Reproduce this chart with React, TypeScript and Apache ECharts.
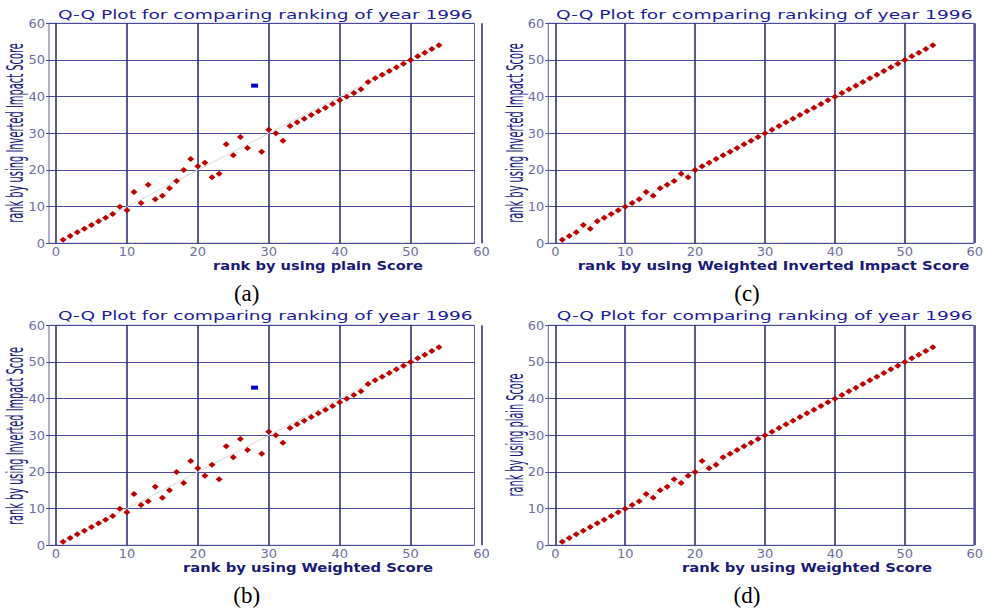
import React, { useEffect, useRef } from "react";
import * as echarts from "echarts";

// ---- data ----
const ranks = [
  1, 2, 3, 4, 5, 6, 7, 8, 9, 10, 11, 12, 13, 14, 15, 16, 17, 18, 19, 20, 21, 22, 23, 24, 25, 26, 27,
  28, 29, 30, 31, 32, 33, 34, 35, 36, 37, 38, 39, 40, 41, 42, 43, 44, 45, 46, 47, 48, 49, 50, 51, 52,
  53, 54,
];
// (a) plain Score (x) vs Inverted Impact Score (y)
const rankInvVsPlain = [
  1, 2, 3, 4, 5, 6, 7, 8, 10, 9, 14, 11, 16, 12, 13, 15, 17, 20, 23, 21, 22, 18, 19, 27, 24, 29, 26,
  43, 25, 31, 30, 28, 32, 33, 34, 35, 36, 37, 38, 39, 40, 41, 42, 44, 45, 46, 47, 48, 49, 50, 51, 52,
  53, 54,
];
// (b) Weighted Score (x) vs Inverted Impact Score (y)
const rankInvVsWeighted = [
  1, 2, 3, 4, 5, 6, 7, 8, 10, 9, 14, 11, 12, 16, 13, 15, 20, 17, 23, 21, 19, 22, 18, 27, 24, 29, 26,
  43, 25, 31, 30, 28, 32, 33, 34, 35, 36, 37, 38, 39, 40, 41, 42, 44, 45, 46, 47, 48, 49, 50, 51, 52,
  53, 54,
];
// (c) Weighted Inverted Impact Score (x) vs Inverted Impact Score (y)
const rankInvVsWeightedInv = [
  1, 2, 3, 5, 4, 6, 7, 8, 9, 10, 11, 12, 14, 13, 15, 16, 17, 19, 18, 20, 21, 22, 23, 24, 25, 26, 27,
  28, 29, 30, 31, 32, 33, 34, 35, 36, 37, 38, 39, 40, 41, 42, 43, 44, 45, 46, 47, 48, 49, 50, 51, 52,
  53, 54,
];
// (d) Weighted Score (x) vs plain Score (y)
const rankPlainVsWeighted = [
  1, 2, 3, 4, 5, 6, 7, 8, 9, 10, 11, 12, 14, 13, 15, 16, 18, 17, 19, 20, 23, 21, 22, 24, 25, 26, 27,
  28, 29, 30, 31, 32, 33, 34, 35, 36, 37, 38, 39, 40, 41, 42, 43, 44, 45, 46, 47, 48, 49, 50, 51, 52,
  53, 54,
];
// highlighted (outlier) rank per panel, null if none
const highlighted = [28, 28, null, null];
// reference diagonal y = x
const refLine = [
  [1, 1],
  [54, 54],
];

const AXIS_MIN = 0;
const AXIS_MAX = 60;
const AXIS_STEP = 10;

const TITLE = "Q-Q Plot for comparing ranking of year 1996";
const xNames = [
  "rank by using plain Score",
  "rank by using Weighted Score",
  "rank by using Weighted Inverted Impact Score",
  "rank by using Weighted Score",
];
const yNames = [
  "rank by using Inverted Impact Score",
  "rank by using Inverted Impact Score",
  "rank by using Inverted Impact Score",
  "rank by using plain Score",
];
const captions = ["(a)", "(b)", "(c)", "(d)"];
const panelValues = [rankInvVsPlain, rankInvVsWeighted, rankInvVsWeightedInv, rankPlainVsWeighted];

// ---- layout (a, b, c, d) ----
const layout = [
  { fx: 49, dx: 56, top: 23.3, tX: 265.3, tY: 14.3, tW: 415, xlX: 318, xlY: 266, xlW: 210, ylX: 15.5, ylY: 133, ylW: 180, cX: 246.7, cY: 293 },
  { fx: 49, dx: 56, top: 325.3, tX: 265.3, tY: 316, tW: 415, xlX: 308, xlY: 568, xlW: 250, ylX: 15.5, ylY: 436, ylW: 178, cX: 246.7, cY: 595 },
  { fx: 548.3, dx: 555.3, top: 23.3, tX: 764.3, tY: 14.3, tW: 417, xlX: 773.5, xlY: 266, xlW: 392, ylX: 515.5, ylY: 133, ylW: 180, cX: 747, cY: 293 },
  { fx: 548.3, dx: 555.3, top: 325.3, tX: 764.7, tY: 316, tW: 416, xlX: 807, xlY: 568, xlW: 250, ylX: 515.5, ylY: 435, ylW: 123, cX: 747, cY: 595 },
];
const PLOT_W = 425.5;
const PLOT_H = 220;

function measure(text: string, font: string): number {
  const ctx = document.createElement("canvas").getContext("2d");
  if (!ctx) return text.length * 7;
  ctx.font = font;
  return ctx.measureText(text).width;
}

function stretchedText(
  text: string,
  x: number,
  y: number,
  size: number,
  weight: string,
  family: string,
  color: string,
  targetW: number,
  vertical: boolean,
  scaleH: number
) {
  const w = measure(text, `${weight} ${size}px ${family}`);
  return {
    type: "text",
    x,
    y,
    rotation: vertical ? Math.PI / 2 : 0,
    scaleX: targetW / w,
    scaleY: scaleH,
    silent: true,
    style: {
      text,
      fill: color,
      fontSize: size,
      fontWeight: weight,
      fontFamily: family,
      align: "center",
      verticalAlign: "middle",
    },
  };
}

export default function App() {
  const ref = useRef<HTMLDivElement>(null);

  useEffect(() => {
    if (!ref.current) return;
    const chart = echarts.init(ref.current, null, { renderer: "svg" });

    const grids: any[] = [];
    const xAxes: any[] = [];
    const yAxes: any[] = [];
    const series: any[] = [];
    const graphics: any[] = [];

    const tickLabel = { color: "#6e6ea4", fontSize: 13, fontFamily: "DejaVu Sans" };

    layout.forEach((L, p) => {
      const fi = 2 * p;
      const di = 2 * p + 1;
      // frame grid (horizontal grid lines, y labels)
      grids.push({
        left: L.fx,
        top: L.top,
        width: PLOT_W,
        height: PLOT_H,
        show: true,
        borderColor: "#5c5ca2",
        borderWidth: 1,
        backgroundColor: "transparent",
      });
      // data grid (vertical grid lines, x labels)
      grids.push({ left: L.dx, top: L.top, width: PLOT_W, height: PLOT_H });

      xAxes.push({
        gridIndex: fi,
        type: "value",
        min: AXIS_MIN,
        max: AXIS_MAX,
        interval: AXIS_STEP,
        axisLine: { show: false },
        axisTick: { show: false },
        axisLabel: { show: false },
        splitLine: { show: false },
      });
      yAxes.push({
        gridIndex: fi,
        type: "value",
        min: AXIS_MIN,
        max: AXIS_MAX,
        interval: AXIS_STEP,
        axisLine: { show: false },
        axisTick: { show: true, length: 3, lineStyle: { color: "#4a4a9c", width: 1 } },
        axisLabel: { ...tickLabel, margin: 4 },
        splitLine: { show: true, lineStyle: { color: "#4a4a9c", width: 1.2 } },
      });
      xAxes.push({
        gridIndex: di,
        type: "value",
        min: AXIS_MIN,
        max: AXIS_MAX,
        interval: AXIS_STEP,
        axisLine: { show: false },
        axisTick: { show: false },
        axisLabel: { ...tickLabel, margin: 2, alignMaxLabel: "center", alignMinLabel: "center" },
        splitLine: { show: true, lineStyle: { color: "#26266f", width: 1.5 } },
      });
      yAxes.push({
        gridIndex: di,
        type: "value",
        min: AXIS_MIN,
        max: AXIS_MAX,
        interval: AXIS_STEP,
        show: false,
        splitLine: { show: false },
      });

      const vals = panelValues[p];
      const hi = highlighted[p];
      const normal: number[][] = [];
      const special: number[][] = [];
      ranks.forEach((r, i) => {
        if (hi !== null && r === hi) special.push([r, vals[i]]);
        else normal.push([r, vals[i]]);
      });

      series.push({
        type: "line",
        xAxisIndex: di,
        yAxisIndex: di,
        data: refLine,
        symbol: "none",
        silent: true,
        lineStyle: { color: "#d8d8d8", width: 1 },
        z: 2,
      });
      series.push({
        type: "scatter",
        xAxisIndex: di,
        yAxisIndex: di,
        data: normal,
        symbol: "diamond",
        symbolSize: [7, 6],
        itemStyle: { color: "#bb0000", opacity: 1 },
        z: 3,
      });
      if (special.length) {
        series.push({
          type: "scatter",
          xAxisIndex: di,
          yAxisIndex: di,
          data: special,
          symbol: "rect",
          symbolSize: [7, 4],
          itemStyle: { color: "#0000c8", opacity: 1 },
          z: 4,
        });
      }

      graphics.push(stretchedText(TITLE, L.tX, L.tY, 13, "normal", "DejaVu Sans", "#1c1c9c", L.tW, false, 1));
      graphics.push(stretchedText(xNames[p], L.xlX, L.xlY, 12, "bold", "DejaVu Sans", "#1a1a78", L.xlW, false, 1));
      graphics.push(stretchedText(yNames[p], L.ylX, L.ylY, 15, "normal", "DejaVu Sans", "#1a1a84", L.ylW, true, 1.5));
      graphics.push({
        type: "text",
        x: L.cX,
        y: L.cY,
        silent: true,
        style: {
          text: captions[p],
          fill: "#000000",
          fontSize: 23,
          fontFamily: "Liberation Serif",
          align: "center",
          verticalAlign: "middle",
        },
      });
    });

    chart.setOption({
      animation: false,
      backgroundColor: "#ffffff",
      grid: grids,
      xAxis: xAxes,
      yAxis: yAxes,
      series,
      graphic: graphics,
    });

    return () => chart.dispose();
  }, []);

  return (
    <div
      ref={ref}
      style={{ position: "fixed", left: 0, top: 0, width: 986, height: 610, background: "#fff" }}
    />
  );
}
